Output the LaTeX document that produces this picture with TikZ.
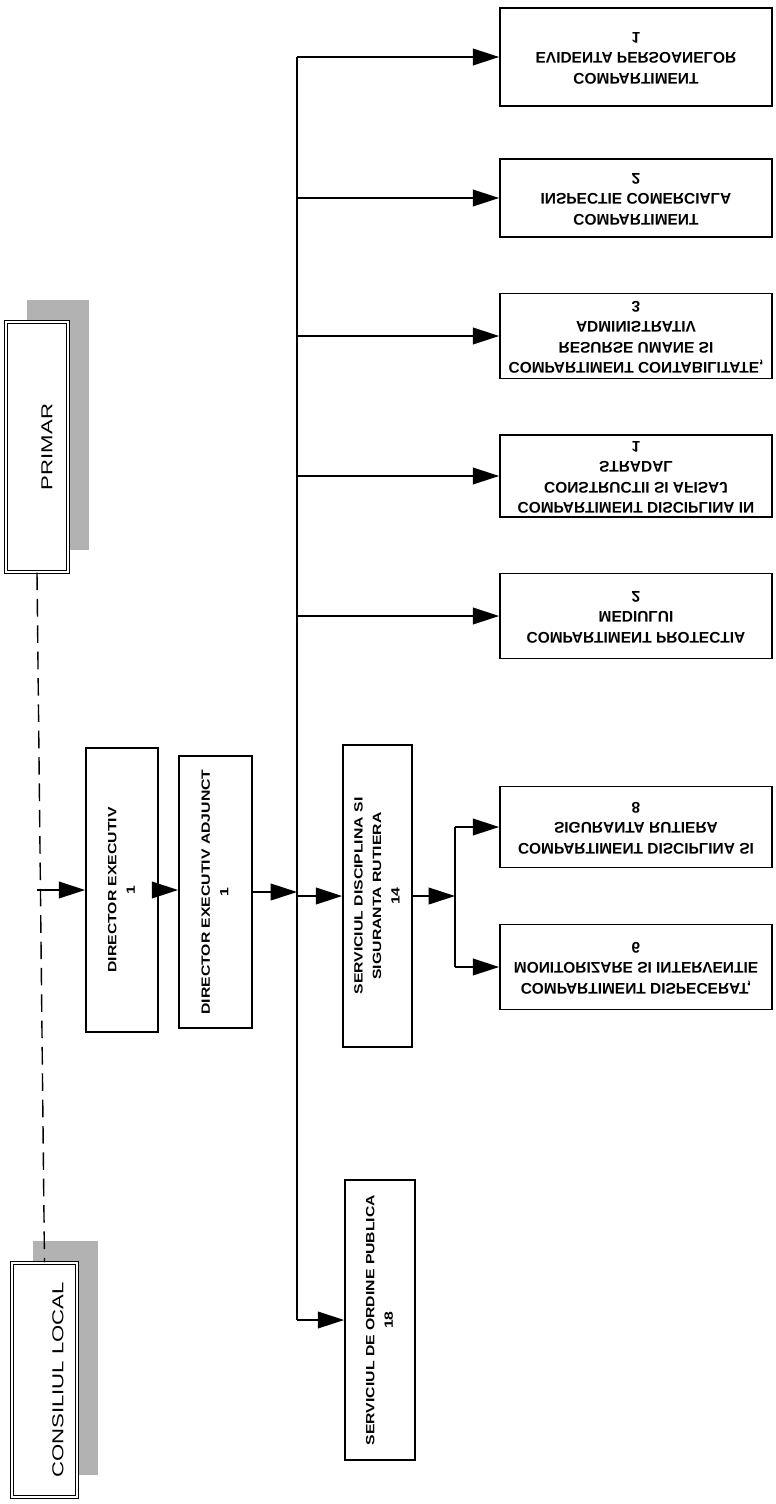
\documentclass[tikz,border=0pt]{standalone}
\usepackage{graphicx}
\usepackage{fontspec}
\usetikzlibrary{arrows.meta,shadows}
\newfontfamily\orgfont{Liberation Sans}[FakeStretch=1.32]
\newfontfamily\headfont{Liberation Sans}[FakeStretch=1.4]
\newfontfamily\compfont{Liberation Sans}
\newcommand{\upright}[1]{\rotatebox{90}{\begin{tabular}{@{}c@{}}#1\end{tabular}}}
\newcommand{\mirrored}[1]{\scalebox{1}[-1]{\begin{tabular}{@{}c@{}}#1\end{tabular}}}

\begin{document}
\begin{tikzpicture}[x=0.02cm, y=-0.02cm, line width=1pt,
  headbox/.style={draw, double, double distance=1.2pt, line width=0.7pt, fill=white, inner sep=0pt,
    drop shadow={shadow xshift=0.42cm, shadow yshift=0.44cm, fill=black!30, opacity=1},
    font=\headfont\fontsize{9}{11}\selectfont},
  unitbox/.style={draw, fill=white, inner sep=0pt, font=\orgfont\bfseries\fontsize{6.8}{10.5}\selectfont},
  compbox/.style={draw, fill=white, inner sep=0pt, minimum width=272*0.02cm,
    font=\compfont\bfseries\fontsize{8.8}{11.5}\selectfont},
  arr/.style={-{Triangle[length=15pt,width=9.5pt]}}]
\fill[white] (0,0) rectangle (775,1504);
\useasboundingbox (0,0) rectangle (775,1504);

\node[headbox, minimum width=62*0.02cm, minimum height=250*0.02cm] (primar) at (37,447) {\hspace{0.4cm}\rotatebox{90}{PRIMAR}};
\node[headbox, minimum width=65*0.02cm, minimum height=234*0.02cm] (consiliul) at (44.5,1380) {\hspace{0.54cm}\rotatebox{90}{CONSILIUL LOCAL}};

\node[unitbox, minimum width=72*0.02cm, minimum height=284*0.02cm] (director) at (122,890) {\upright{DIRECTOR EXECUTIV\\1}};
\node[unitbox, minimum width=73*0.02cm, minimum height=272*0.02cm] (adjunct) at (215.5,892) {\upright{DIRECTOR EXECUTIV ADJUNCT\\1}};
\node[unitbox, minimum width=69*0.02cm, minimum height=302*0.02cm] (sdisc) at (377.5,896) {\upright{SERVICIUL DISCIPLINA SI\\SIGURANTA RUTIERA\\14}};
\node[unitbox, minimum width=70*0.02cm, minimum height=280*0.02cm] (sordine) at (380,1320) {\upright{SERVICIUL DE ORDINE PUBLICA\\18}};

\node[compbox, minimum height=98*0.02cm] (cevid) at (636,57) {\mirrored{COMPARTIMENT\\EVIDENTA PERSOANELOR\\1}};
\node[compbox, minimum height=78*0.02cm] (cinsp) at (636,198) {\mirrored{COMPARTIMENT\\INSPECTIE COMERCIALA\\2}};
\node[compbox, minimum height=85*0.02cm] (ccont) at (636,336) {\mirrored{COMPARTIMENT CONTABILITATE,\\RESURSE UMANE SI\\ADMINISTRATIV\\3}};
\node[compbox, minimum height=82*0.02cm] (cdiscon) at (636,476) {\mirrored{COMPARTIMENT DISCIPLINA IN\\CONSTRUCTII SI AFISAJ\\STRADAL\\1}};
\node[compbox, minimum height=85*0.02cm] (cprot) at (636,616) {\mirrored{COMPARTIMENT PROTECTIA\\MEDIULUI\\2}};
\node[compbox, minimum height=81*0.02cm] (cdrut) at (636,827) {\mirrored{COMPARTIMENT DISCIPLINA SI\\SIGURANTA RUTIERA\\8}};
\node[compbox, minimum height=85*0.02cm] (cdisp) at (636,967) {\mirrored{COMPARTIMENT DISPECERAT,\\MONITORIZARE SI INTERVENTIE\\6}};

\draw[dash pattern=on 10pt off 5pt, line width=0.8pt] (primar.south) -- (consiliul.north);
\coordinate (tap) at (primar.south |- director.west);
\draw[arr] (tap) -- (director.west);
\draw[arr] (director.east) -- (director.east -| adjunct.west);

\coordinate (bus) at (297,893);
\draw[arr] (adjunct.east) -- (adjunct.east -| bus);
\draw (bus |- cevid.west) -- (bus |- sordine.west);
\foreach \n in {cevid,cinsp,ccont,cdiscon,cprot}
  \draw[arr] (bus |- \n.west) -- (\n.west);
\draw[arr] (bus |- sdisc.west) -- (sdisc.west);
\draw[arr] (bus |- sordine.west) -- (sordine.west);

\coordinate (sbus) at (455,896);
\draw[arr] (sdisc.east) -- (sbus);
\draw (sbus |- cdrut.west) -- (sbus |- cdisp.west);
\draw[arr] (sbus |- cdrut.west) -- (cdrut.west);
\draw[arr] (sbus |- cdisp.west) -- (cdisp.west);

\end{tikzpicture}
\end{document}
